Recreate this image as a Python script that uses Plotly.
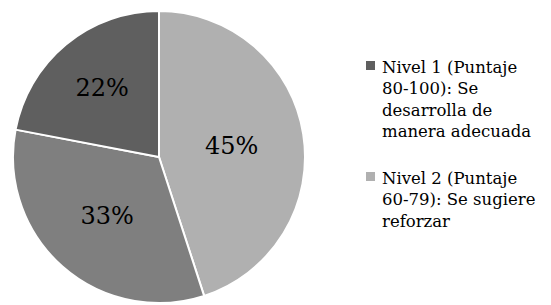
import plotly.graph_objects as go

labels = ["Nivel 2 (Puntaje 60-79): Se sugiere reforzar",
          "Nivel 3",
          "Nivel 1 (Puntaje 80-100): Se desarrolla de manera adecuada"]
values = [45, 33, 22]
colors = ["#b0b0b0", "#7f7f7f", "#5f5f5f"]

legend_items = ["Nivel 1 (Puntaje<br>80-100): Se<br>desarrolla de<br>manera adecuada",
                "Nivel 2 (Puntaje<br>60-79): Se sugiere<br>reforzar"]
legend_colors = ["#5f5f5f", "#b0b0b0"]

# page body has an 8px margin; work in page coordinates and shift
OFF = 8
W, H = 551 - OFF, 305 - OFF


def px(x):
    return (x - OFF) / W


def py(y):
    return 1 - (y - OFF) / H


fig = go.Figure(go.Pie(
    labels=labels, values=values, sort=False, direction="clockwise", rotation=0,
    marker=dict(colors=colors, line=dict(color="white", width=2)),
    textinfo="percent", texttemplate="%{percent:.0%}",
    textposition="inside", insidetextorientation="horizontal",
    textfont=dict(family="DejaVu Serif", size=24, color="black"),
    domain=dict(x=[px(13), px(305)], y=[py(303), py(11)]),
    showlegend=False, hoverinfo="label+percent",
))

tops = [57, 168]
for i, (txt, col) in enumerate(zip(legend_items, legend_colors)):
    fig.add_shape(type="rect", xref="paper", yref="paper",
                  x0=px(366), x1=px(375), y0=py(tops[i] + 4), y1=py(tops[i] + 13),
                  fillcolor=col, line=dict(width=0))
    fig.add_annotation(x=px(381), y=py(tops[i]), xref="paper", yref="paper",
                       xanchor="left", yanchor="top", align="left", showarrow=False,
                       text=txt, borderpad=0,
                       font=dict(family="DejaVu Serif", size=16.5, color="black"))

fig.update_layout(width=W, height=H, margin=dict(l=0, r=0, t=0, b=0),
                  paper_bgcolor="white", plot_bgcolor="white")
fig.write_html("out.html")
